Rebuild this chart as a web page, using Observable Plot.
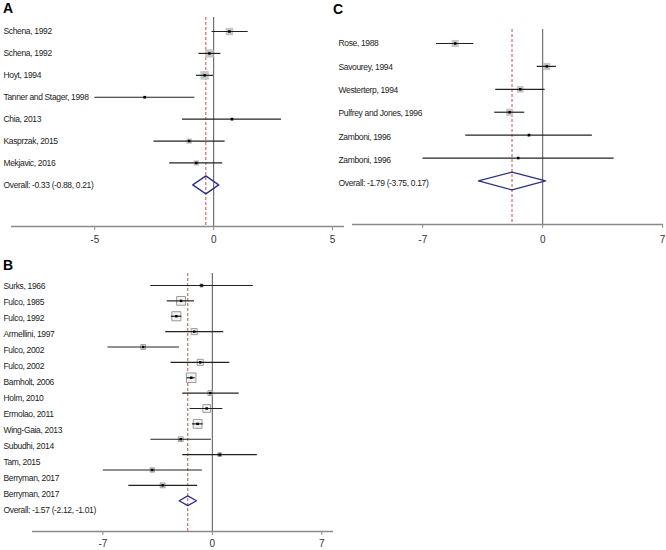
<!DOCTYPE html>
<html>
<head>
<meta charset="utf-8">
<script src="https://cdn.jsdelivr.net/npm/d3@7"></script>
<script src="https://cdn.jsdelivr.net/npm/@observablehq/plot@0.6"></script>
<style>
  html, body { margin: 0; padding: 0; background: #fff; overflow: hidden; }
  #wrap { position: relative; width: 666px; height: 550px; font-family: "Liberation Sans", Arial, sans-serif; }
  .panel { position: absolute; }
  .panel text.lbl, .panel g.lbl text { letter-spacing: -0.35px; }
  .tag { position: absolute; font-family: "Liberation Sans", Arial, sans-serif; font-weight: bold; font-size: 14px; color: #000; line-height: 1; }
</style>
</head>
<body>
<div id="wrap"></div>
<script>
// ---------- Panel A ----------
const labelsA = ["Schena, 1992", "Schena, 1992", "Hoyt, 1994", "Tanner and Stager, 1998", "Chia, 2013", "Kasprzak, 2015", "Mekjavic, 2016"];
const estA = [0.66, -0.18, -0.38, -2.90, 0.77, -1.03, -0.73];
const loA  = [-0.07, -0.62, -0.72, -4.99, -1.31, -2.51, -1.85];
const hiA  = [1.45, 0.30, -0.01, -0.79, 2.85, 0.48, 0.38];
const wA   = [15, 19, 20, 3, 3, 8, 8];
const overallA = [-0.33, -0.88, 0.21];
const ticksA = [-5, 0, 5];

// ---------- Panel B ----------
const labelsB = ["Surks, 1966", "Fulco, 1985", "Fulco, 1992", "Armellini, 1997", "Fulco, 2002", "Fulco, 2002", "Barnholt, 2006", "Holm, 2010", "Ermolao, 2011", "Wing-Gaia, 2013", "Subudhi, 2014", "Tam, 2015", "Berryman, 2017", "Berryman, 2017"];
const estB = [-0.69, -2.00, -2.30, -1.16, -4.42, -0.77, -1.35, -0.13, -0.36, -0.94, -2.02, 0.47, -3.84, -3.18];
const loB  = [-3.93, -2.88, -2.62, -2.98, -6.67, -2.64, -1.61, -1.89, -1.42, -1.27, -3.93, -1.89, -6.97, -5.34];
const hiB  = [2.62, -1.14, -1.95, 0.73, -2.10, 1.12, -1.09, 1.72, 0.67, -0.58, -0.06, 2.88, -0.64, -0.94];
const wB   = [2, 17, 18, 8, 5, 8, 20, 5, 13, 17, 5, 3, 4, 5];
const overallB = [-1.57, -2.12, -1.01];
const ticksB = [-7, 0, 7];

// ---------- Panel C ----------
const labelsC = ["Rose, 1988", "Savourey, 1994", "Westerterp, 1994", "Pulfrey and Jones, 1996", "Zamboni, 1996", "Zamboni, 1996"];
const estC = [-5.11, 0.24, -1.31, -1.93, -0.80, -1.43];
const loC  = [-6.20, -0.32, -2.74, -2.80, -4.49, -6.98];
const hiC  = [-4.02, 0.80, 0.14, -1.05, 2.90, 4.17];
const wC   = [14, 14, 12, 14, 3, 2];
const overallC = [-1.79, -3.75, 0.17];
const ticksC = [-7, 0, 7];

const FONT = '"Liberation Sans", Arial, sans-serif';

function forest(cfg) {
  const n = cfg.labels.length;
  const rows = cfg.labels.map((label, i) => ({label, est: cfg.est[i], lo: cfg.lo[i], hi: cfg.hi[i], w: cfg.w[i], row: i}));
  const [oe, ol, oh] = cfg.overall;
  const h = cfg.diamondHalf;
  const diamond = [
    {x: ol, y: n}, {x: oe, y: n - h}, {x: oh, y: n}, {x: oe, y: n + h}, {x: ol, y: n}
  ];
  const overallText = `Overall: ${oe.toFixed(2)} (${ol.toFixed(2)}, ${oh.toFixed(2)})`;
  const step = cfg.labelStep || 1;
  const marks = [
    Plot.ruleX([0], {stroke: "#555", strokeWidth: 1}),
    Plot.ruleX([oe], {stroke: "#c0504d", strokeWidth: 1, strokeDasharray: "3,2"}),
    Plot.ruleY([cfg.yDomain[0]], {stroke: "#8a8a8a", strokeWidth: 1.5}),
    Plot.dot(rows, {x: "est", y: "row", r: "w", symbol: "square", fill: cfg.sqFill, stroke: cfg.sqStroke, strokeWidth: 1}),
    Plot.ruleY(rows, {y: "row", x1: "lo", x2: "hi", stroke: "#222", strokeWidth: 1.2}),
    Plot.dot(rows, {x: "est", y: "row", r: 1.4, symbol: "square", fill: "#000", stroke: "none"}),
    Plot.line(diamond, {x: "x", y: "y", stroke: "#2b2f8c", strokeWidth: 1.3, fill: "none"}),
    Plot.text(rows, {y: d => d.row * step + cfg.labelOffset, text: "label", frameAnchor: "left", dx: cfg.labelDx, textAnchor: "start", fontSize: 8.5, fill: "#222", className: "lbl"}),
    Plot.text([overallText], {y: n * step + cfg.labelOffset, text: d => d, frameAnchor: "left", dx: cfg.labelDx, textAnchor: "start", fontSize: 8.5, fill: "#222", className: "lbl"})
  ];
  if (Plot.axisX) {
    marks.unshift(Plot.axisX({ticks: cfg.ticks, tickSize: 4, tickPadding: cfg.tickPadding, tickFormat: d => String(d), stroke: "#8a8a8a", fill: "#333", fontSize: 10, label: null}));
  }
  const svg = Plot.plot({
    width: cfg.width,
    height: cfg.height,
    marginLeft: cfg.ml, marginRight: cfg.mr, marginTop: cfg.mt, marginBottom: cfg.mb,
    style: {fontFamily: FONT, fontSize: "8.5px", background: "transparent", overflow: "visible"},
    x: {domain: cfg.domain, ticks: cfg.ticks, tickSize: 4, tickPadding: cfg.tickPadding, tickFormat: d => String(d), label: null, axis: Plot.axisX ? null : "bottom"},
    y: {domain: cfg.yDomain, axis: null},
    r: {domain: [0, 20], range: [0, cfg.rMax]},
    marks
  });
  return svg;
}

const wrap = document.getElementById("wrap");
function place(svg, left, top) {
  const d = document.createElement("div");
  d.className = "panel";
  d.style.left = left + "px";
  d.style.top = top + "px";
  d.appendChild(svg);
  wrap.appendChild(d);
}
function tag(t, left, top) {
  const d = document.createElement("div");
  d.className = "tag";
  d.textContent = t;
  d.style.left = left + "px";
  d.style.top = top + "px";
  wrap.appendChild(d);
}

place(forest({
  labels: labelsA, est: estA, lo: loA, hi: hiA, w: wA, overall: overallA, ticks: ticksA,
  domain: [-8.5, 5.5], yDomain: [8.9, -0.64],
  width: 346, height: 252, ml: 11, mr: 2, mt: 17, mb: 26,
  labelDx: -8, labelOffset: 0, labelStep: 1, tickPadding: 5,
  sqFill: "#c6c6c6", sqStroke: "none", rMax: 4.8, diamondHalf: 0.41
}), 0, 0);

place(forest({
  labels: labelsB, est: estB, lo: loB, hi: hiB, w: wB, overall: overallB, ticks: ticksB,
  domain: [-11.5, 7.75], yDomain: [16.0, -0.78],
  width: 336, height: 290, ml: 32, mr: 3, mt: 13, mb: 19,
  labelDx: -29, labelOffset: 0.05, labelStep: 1.04, tickPadding: 4,
  sqFill: "#f2f2f2", sqStroke: "#9a9a9a", rMax: 5.4, diamondHalf: 0.32
}), 0, 260);

place(forest({
  labels: labelsC, est: estC, lo: loC, hi: hiC, w: wC, overall: overallC, ticks: ticksC,
  domain: [-11.1, 7.05], yDomain: [7.9, -0.61],
  width: 336, height: 252, ml: 22, mr: 3, mt: 29, mb: 28,
  labelDx: -14, labelOffset: 0, labelStep: 1.02, tickPadding: 7,
  sqFill: "#c6c6c6", sqStroke: "none", rMax: 4.8, diamondHalf: 0.39
}), 330, 0);

tag("A", 3, 1);
tag("B", 3, 258);
tag("C", 333, 2);
</script>
</body>
</html>
